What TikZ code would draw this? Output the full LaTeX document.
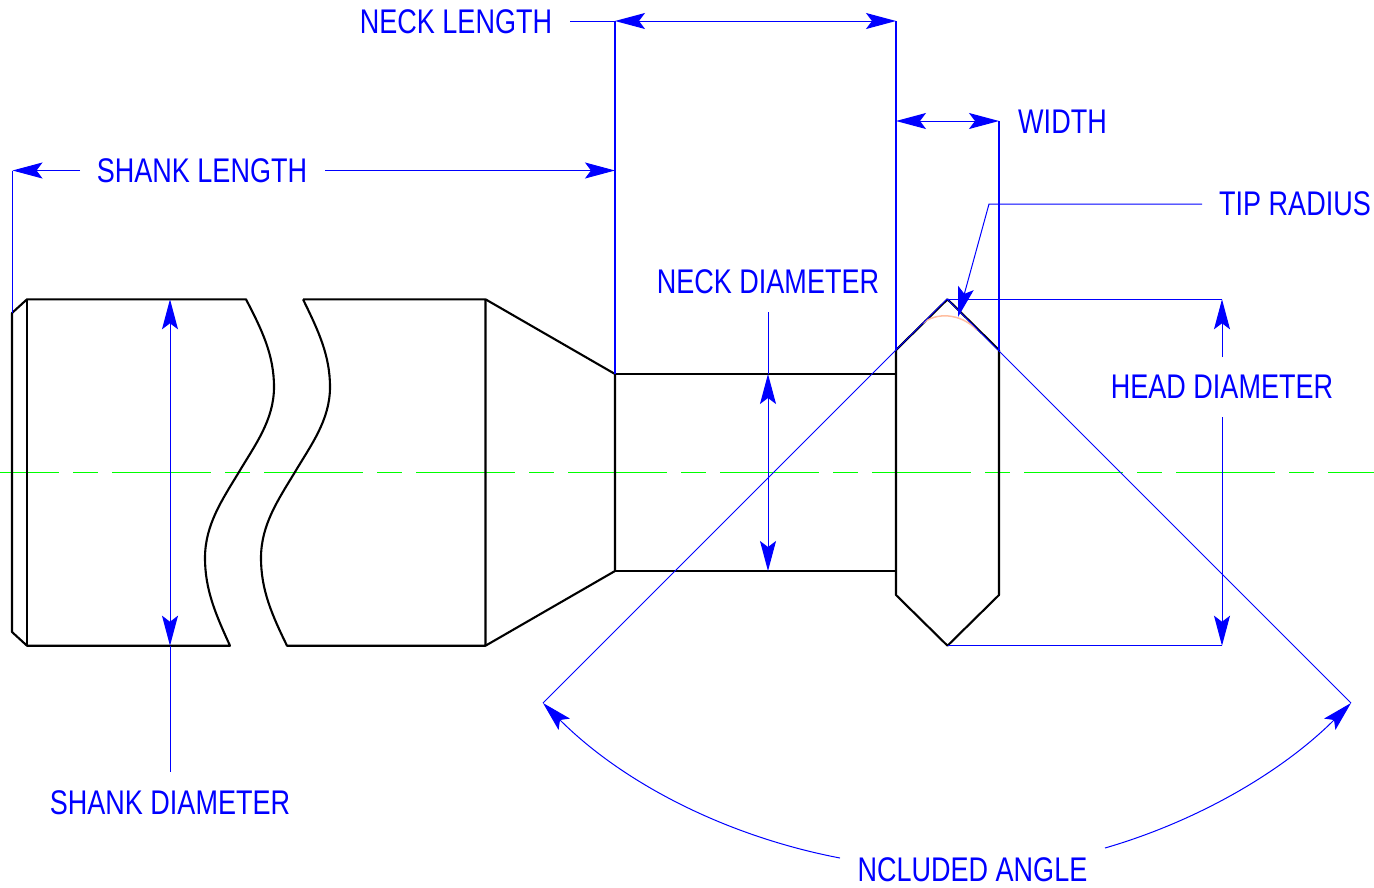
\documentclass[tikz,border=0pt]{standalone}
\usepackage{fontspec}
\setmainfont[FakeStretch=0.79]{Liberation Sans}
\usetikzlibrary{arrows.meta,calc}
\definecolor{dimblue}{RGB}{0,0,255}
\definecolor{axisgreen}{RGB}{0,255,0}
\definecolor{tipsalmon}{RGB}{255,190,160}
\tikzset{
  x=1pt,y=-1pt,
  part/.style={draw=black,line width=2.1pt,line join=round},
  dimline/.style={draw=dimblue,line width=1pt},
  extline/.style={draw=dimblue,line width=1.4pt},
  dimtip/.tip={Stealth[length=30pt,width=16pt,inset=6pt,fill=dimblue]},
  tipped/.style={dimline,-dimtip},
  tippedboth/.style={dimline,dimtip-dimtip},
  axisline/.style={draw=axisgreen,line width=1.1pt,dash pattern=on 99pt off 14pt on 25pt off 14pt,dash phase=40pt},
  dimtext/.style={text=dimblue,font=\fontsize{34.2pt}{35pt}\selectfont,inner sep=0pt,anchor=center},
}
\begin{document}
\begin{tikzpicture}
\useasboundingbox (0,0) rectangle (1374,887);
% axis
\coordinate (axisL) at (0,472.5);
\coordinate (axisR) at (1374,472.5);
\draw[axisline] (axisL) -- (axisR);
% part
\draw[part] (12,313) -- (27,299.3) -- (246,299.3)
  .. controls (262,330) and (274,355) .. (274,387)
  .. controls (274,420) and (255,445) .. (239,472)
  .. controls (222,500) and (205,525) .. (205,558)
  .. controls (205,590) and (216,615) .. (230,645.7)
  -- (27,645.7) -- (12,632) -- cycle;
\draw[part] (27,299.3) -- (27,645.7);
\draw[part] (303,299.3) -- (485.5,299.3) -- (485.5,645.7) -- (287,645.7)
  .. controls (272,615) and (261,590) .. (261,558)
  .. controls (261,525) and (278,500) .. (295,472)
  .. controls (311,445) and (330,420) .. (330,387)
  .. controls (330,355) and (318,330) .. (303,299.3);
\draw[part] (485.5,299.3) -- (615,374) -- (615,571) -- (485.5,645.7);
\draw[part] (615,374) -- (896,374);
\draw[part] (615,571) -- (896,571);
\draw[part] (896,350) -- (947.5,299.3) -- (999,350) -- (999,595) -- (947.5,645.7) -- (896,595) -- cycle;
\draw[draw=tipsalmon,line width=1.5pt] (923,323) .. controls (936,312.5) and (960,312.5) .. (977,330);
% coordinates
\coordinate (nlL) at (615,21); \coordinate (nlR) at (896,21);
\coordinate (nlT) at (570,21);
\coordinate (nlLb) at (615,374); \coordinate (nlRb) at (896,350);
\coordinate (wR) at (999,121); \coordinate (wL) at (896,121); \coordinate (wRb) at (999,350);
\coordinate (slL) at (12.5,170.5); \coordinate (slLb) at (12.5,313);
\coordinate (slLt) at (80,170.5); \coordinate (slRt) at (325,170.5); \coordinate (slR) at (615,170.5);
\coordinate (trA) at (1202,204); \coordinate (trB) at (989,204); \coordinate (trC) at (958,317);
\coordinate (hdT) at (1222,299.3); \coordinate (hdB) at (1222,645.7);
\coordinate (hdTa) at (947.5,299.3); \coordinate (hdBa) at (947.5,645.7);
\coordinate (hdt1) at (1222,357); \coordinate (hdt2) at (1222,417);
\coordinate (ndtop) at (768,312); \coordinate (nd1) at (768,374); \coordinate (nd2) at (768,571);
\coordinate (sd1) at (170,299.3); \coordinate (sd2) at (170,645.7); \coordinate (sd3) at (170,772);
\coordinate (ap) at (947,299); \coordinate (aL) at (543,703); \coordinate (aR) at (1351,703);
\coordinate (aLt) at (840,858); \coordinate (aRt) at (1105,848);
% labels
\node[dimtext] (neckl) at (456,21.5) {NECK LENGTH};
\node[dimtext] (width) at (1062.5,121.5) {WIDTH};
\node[dimtext] (shankl) at (202,170.5) {SHANK LENGTH};
\node[dimtext] (tipr) at (1295,203.5) {TIP RADIUS};
\node[dimtext] (neckd) at (768,281.5) {NECK DIAMETER};
\node[dimtext] (headd) at (1222,386.5) {HEAD DIAMETER};
\node[dimtext] (shankd) at (170,802.5) {SHANK DIAMETER};
\node[dimtext] (angle) at (972.5,869.5) {NCLUDED ANGLE};
% dimensions
\draw[dimline] (nlT) -- (nlL);
\draw[extline] (nlL) -- (nlLb);
\draw[extline] (nlR) -- (nlRb);
\draw[tippedboth] (nlL) -- (nlR);
\draw[tippedboth] (wL) -- (wR);
\draw[extline] (wR) -- (wRb);
\draw[extline] (slL) -- (slLb);
\draw[tipped] (slLt) -- (slL);
\draw[tipped] (slRt) -- (slR);
\draw[tipped] (trA) -- (trB) -- (trC);
\draw[dimline] (hdTa) -- (hdT);
\draw[dimline] (hdBa) -- (hdB);
\draw[tipped] (hdt1) -- (hdT);
\draw[tipped] (hdt2) -- (hdB);
\draw[dimline] (ndtop) -- (nd1);
\draw[tippedboth] (nd1) -- (nd2);
\draw[tippedboth] (sd1) -- (sd2);
\draw[dimline] (sd2) -- (sd3);
\draw[dimline] (aL) -- (ap) -- (aR);
\draw[tipped] (aLt) .. controls (727.5,836.5) and (624,784) .. (aL);
\draw[tipped] (aRt) .. controls (1198,821) and (1282.5,771.5) .. (aR);
\end{tikzpicture}
\end{document}
